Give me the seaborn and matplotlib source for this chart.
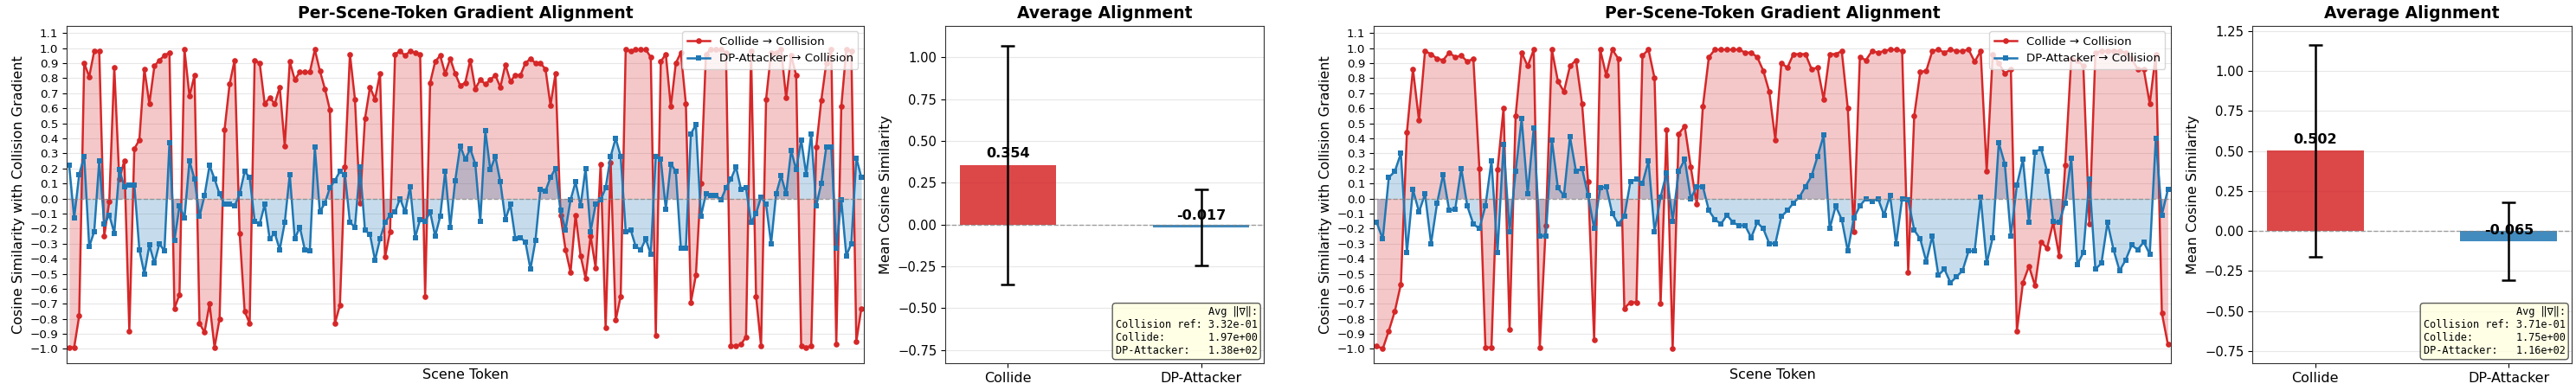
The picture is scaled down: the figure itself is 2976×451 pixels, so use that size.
import numpy as np
import matplotlib
matplotlib.use("Agg")
import matplotlib.pyplot as plt
import seaborn as sns

# ---------------- data ----------------
series_labels = ["Collide \u2192 Collision", "DP-Attacker \u2192 Collision"]
bar_categories = ["Collide", "DP-Attacker"]

collide_1 = [
    -0.99, -0.99, -0.78, 0.90, 0.81, 0.98, 0.98, -0.25, -0.02, 0.87,
    0.13, 0.25, -0.88, 0.33, 0.39, 0.86, 0.63, 0.88, 0.92, 0.95,
    0.97, -0.73, -0.64, 0.99, 0.68, 0.82, -0.83, -0.89, -0.70, -0.99,
    -0.80, 0.46, 0.76, 0.92, -0.23, -0.75, -0.83, 0.92, 0.90, 0.63,
    0.67, 0.63, 0.74, 0.35, 0.91, 0.79, 0.84, 0.84, 0.84, 0.99,
    0.85, 0.73, 0.59, -0.83, -0.71, 0.21, 0.96, 0.66, -0.03,
    0.53, 0.74, 0.66, 0.83, -0.39, -0.22, 0.96, 0.98, 0.95, 0.98,
    0.97, 0.96, -0.65, 0.77, 0.91, 0.95, 0.83, 0.93, 0.83, 0.75,
    0.77, 0.92, 0.73, 0.79, 0.76, 0.79, 0.82, 0.74, 0.89, 0.78,
    0.82, 0.82, 0.90, 0.93, 0.90, 0.90, 0.86, 0.62, 0.83, -0.11,
    -0.34, -0.49, -0.11, -0.38, -0.53, -0.25, -0.46, 0.23, -0.86, 0.24, -0.81, -0.65,
    0.99, 0.98, 0.99, 0.99, 0.99, 0.94, -0.91, 0.91, 0.96, 0.61,
    0.90, 0.97, 0.63, -0.69, -0.51, 0.10, 0.96, 0.99, 0.99, 0.99,
    0.97, -0.98, -0.98, -0.97, -0.92, 0.98, -0.65, -0.98, 0.66, 0.97,
    0.97, 0.99, 0.67, 0.95, 0.82, -0.98, -0.99, -0.98, 0.34, 0.65,
    0.90, 0.99, -0.97, 0.61, 0.99, 0.98, -0.95, -0.73,
]
dp_1 = [
    0.22, -0.13, 0.16, 0.28, -0.32, -0.22, 0.25, -0.17, -0.11, -0.23,
    0.19, 0.08, 0.09, 0.09, -0.34, -0.50, -0.31, -0.43, -0.30, -0.35,
    0.37, -0.28, -0.05, -0.13, 0.25, 0.13, -0.12, 0.02, 0.22, 0.13,
    0.03, -0.04, -0.04, -0.05, 0.03, 0.18, 0.14, -0.15, -0.17, -0.04,
    -0.27, -0.23, -0.34, -0.16, 0.16, -0.27, -0.19, -0.34, -0.35, 0.34,
    -0.09, -0.03, 0.07, 0.12, 0.18, 0.16, -0.16, -0.19, 0.21,
    -0.21, -0.24, -0.41, -0.27, -0.16, -0.11, -0.09, 0.00, -0.09, 0.08,
    -0.26, -0.14, -0.15, -0.09, -0.25, -0.12, 0.18, -0.19, 0.12, 0.35,
    0.26, 0.33, 0.23, -0.15, 0.45, 0.19, 0.28, 0.11, -0.14, -0.04,
    -0.27, -0.26, -0.29, -0.47, -0.28, 0.06, 0.05, 0.14, 0.20, -0.08,
    -0.21, -0.01, 0.11, -0.05, 0.20, -0.22, -0.04, -0.01, 0.07, 0.28, 0.40, 0.28,
    -0.22, -0.21, -0.32, -0.34, -0.27, -0.37, 0.28, 0.26, -0.07, 0.23,
    0.18, -0.33, -0.33, 0.43, 0.49, -0.12, 0.03, 0.02, 0.02, -0.01,
    0.07, 0.13, 0.21, 0.06, 0.07, -0.16, -0.10, 0.01, -0.04, -0.30,
    0.03, 0.15, 0.03, 0.32, 0.19, 0.39, 0.16, 0.43, -0.05, 0.10,
    0.34, 0.34, -0.33, -0.01, -0.38, -0.30, 0.27, 0.14,
]
collide_2 = [
    -0.98, -1.00, -0.88, -0.75, -0.57, 0.44, 0.86, 0.52, 0.98, 0.96,
    0.93, 0.92, 0.97, 0.94, 0.95, 0.91, 0.93, 0.20, -0.99, -0.99,
    0.19, 0.60, -0.87, 0.55, 0.97, 0.88, 0.99, -0.99, -0.18, 0.99,
    0.78, 0.71, 0.88, 0.92, 0.63, 0.11, -0.94, 0.99, 0.82, 0.99,
    0.93, -0.73, -0.69, -0.69, 0.95, 0.99, 0.80, -0.70, 0.46, -1.00,
    0.43, 0.48, 0.21, -0.04, 0.61, 0.94, 0.99, 0.99, 0.99, 0.99,
    0.99, 0.97, 0.97, 0.94, 0.85, 0.71, 0.39, 0.90, 0.87, 0.96,
    0.96, 0.96, 0.86, 0.87, 0.66, 0.96, 0.96, 0.98, 0.60, -0.22,
    0.94, 0.92, 0.98, 0.97, 0.98, 0.99, 0.99, 0.98, -0.49, 0.55,
    0.84, 0.85, 0.98, 0.99, 0.97, 0.99, 0.98, 0.98, 0.99, 0.91,
    0.98, 0.18, 0.96, 0.90, 0.83, 0.86, -0.88, -0.56, -0.45, -0.58,
    -0.29, -0.33, -0.16, -0.38, 0.22, 0.93, 0.92, 0.88, -0.17, 0.97,
    0.98, 0.98, 0.98, 0.98, 0.97, 0.93, 0.86, 0.86, 0.63, 0.96, -0.76, -0.97,
]
dp_2 = [
    -0.16, -0.27, 0.14, 0.18, 0.30, -0.36, 0.06, -0.09, 0.03, -0.30,
    -0.03, 0.16, -0.08, -0.07, 0.20, -0.05, -0.17, -0.20, -0.05, 0.25,
    -0.36, 0.36, -0.22, 0.18, 0.53, 0.03, 0.47, -0.25, -0.25, 0.39,
    0.07, 0.02, 0.41, 0.18, 0.20, 0.02, -0.20, 0.07, 0.08, -0.10,
    -0.17, -0.12, 0.11, 0.13, 0.10, 0.25, -0.22, 0.01, 0.17, -0.15,
    0.18, 0.26, 0.00, 0.08, 0.08, -0.08, -0.14, -0.17, -0.11, -0.16,
    -0.18, -0.18, -0.26, -0.16, -0.20, -0.30, -0.30, -0.12, -0.08, -0.03,
    0.01, 0.08, 0.15, 0.28, 0.42, -0.20, -0.05, -0.14, -0.35, -0.13,
    -0.05, 0.00, -0.02, 0.00, -0.11, 0.02, -0.30, 0.00, -0.01, -0.21,
    -0.27, -0.42, -0.25, -0.51, -0.47, -0.56, -0.52, -0.48, -0.35, -0.35,
    0.01, -0.43, -0.26, 0.37, 0.23, -0.25, 0.09, 0.26, -0.16, 0.31,
    0.33, 0.18, -0.15, -0.16, -0.03, 0.27, -0.44, -0.36, 0.13, -0.47,
    -0.43, -0.16, -0.34, -0.48, -0.41, -0.31, -0.34, -0.29, -0.37, 0.40, -0.11, 0.06,
]

bar_means_1 = [0.354, -0.017]
bar_stds_1 = [0.715, 0.227]
bar_means_2 = [0.502, -0.065]
bar_stds_2 = [0.663, 0.242]

norm_labels = ["Collision ref:", "Collide:", "DP-Attacker:"]
norms_1 = [3.32e-01, 1.97e+00, 1.38e+02]
norms_2 = [3.71e-01, 1.75e+00, 1.16e+02]

# ---------------- style ----------------
RED = "#d62728"
BLUE = "#1f77b4"
plt.rcParams["font.family"] = ["DejaVu Sans"]
plt.rcParams["axes.edgecolor"] = "#333333"

W, H = 2976, 451
fig = plt.figure(figsize=(W / 100, H / 100), dpi=100)


def rect(l, r, t=29.5, b=420):
    return [l / W, (H - b) / H, (r - l) / W, (b - t) / H]


ax1 = fig.add_axes(rect(77, 998))
ax2 = fig.add_axes(rect(1092, 1460))
ax3 = fig.add_axes(rect(1587, 2508))
ax4 = fig.add_axes(rect(2602, 2971))


def line_panel(ax, col, dp):
    n = len(col)
    x = np.arange(n)
    sns.lineplot(x=x, y=col, ax=ax, color=RED, marker="o", markersize=4.8,
                 linewidth=1.8, markeredgewidth=0, label=series_labels[0])
    ax.fill_between(x, 0, col, color=RED, alpha=0.25, linewidth=0)
    sns.lineplot(x=x, y=dp, ax=ax, color=BLUE, marker="s", markersize=4.6,
                 linewidth=1.8, markeredgewidth=0, label=series_labels[1])
    ax.fill_between(x, 0, dp, color=BLUE, alpha=0.25, linewidth=0)
    ax.axhline(0, color="gray", linestyle="--", linewidth=1, alpha=0.7)
    ax.set_xlim(-0.5, n - 0.5)
    ax.set_ylim(-1.095, 1.15)
    ax.set_yticks(np.round(np.arange(-1.0, 1.11, 0.1), 1))
    ax.set_xticks([])
    ax.tick_params(axis="y", labelsize=9.7)
    ax.grid(axis="y", alpha=0.3)
    ax.set_axisbelow(True)
    ax.set_xlabel("Scene Token", fontsize=11.5)
    ax.set_ylabel("Cosine Similarity with Collision Gradient", fontsize=11.5)
    ax.set_title("Per-Scene-Token Gradient Alignment", fontsize=13.5, fontweight="bold")
    ax.legend(loc="upper right", fontsize=9.6)


def bar_panel(ax, means, stds, norms, ylim):
    sns.barplot(x=bar_categories, y=means, hue=bar_categories, palette=[RED, BLUE],
                saturation=1, width=0.5, alpha=0.85, linewidth=0, errorbar=None,
                legend=False, ax=ax)
    ax.errorbar(np.arange(len(means)), means, yerr=stds, fmt="none", ecolor="black",
                elinewidth=1.8, capsize=6, capthick=1.8, zorder=4)
    for i, m in enumerate(means):
        ax.text(i, m + 0.03, f"{m:.3f}", ha="center", va="bottom",
                fontsize=11.5, fontweight="bold", zorder=5)
    ax.axhline(0, color="gray", linestyle="--", linewidth=1, alpha=0.7)
    ax.set_xlim(-0.325, 1.325)
    ax.set_ylim(*ylim)
    ax.grid(axis="y", alpha=0.3)
    ax.set_axisbelow(True)
    ax.tick_params(axis="y", labelsize=10.6)
    ax.tick_params(axis="x", labelsize=11.5)
    ax.set_xlabel("")
    ax.set_ylabel("Mean Cosine Similarity", fontsize=11.5)
    ax.set_title("Average Alignment", fontsize=13.5, fontweight="bold")
    txt = "Avg \u2016\u2207\u2016:\n" + "\n".join(
        f"{lab:<15}{v:.2e}" for lab, v in zip(norm_labels, norms))
    ax.text(0.98, 0.02, txt, transform=ax.transAxes, ha="right", va="bottom",
            family=["DejaVu Sans Mono", "DejaVu Sans"], fontsize=8.6, zorder=6,
            bbox=dict(boxstyle="round", facecolor="lightyellow", edgecolor="#333333", alpha=0.8))


line_panel(ax1, collide_1, dp_1)
bar_panel(ax2, bar_means_1, bar_stds_1, norms_1, (-0.83, 1.19))
line_panel(ax3, collide_2, dp_2)
bar_panel(ax4, bar_means_2, bar_stds_2, norms_2, (-0.827, 1.285))

fig.savefig("out.png", dpi=100)
